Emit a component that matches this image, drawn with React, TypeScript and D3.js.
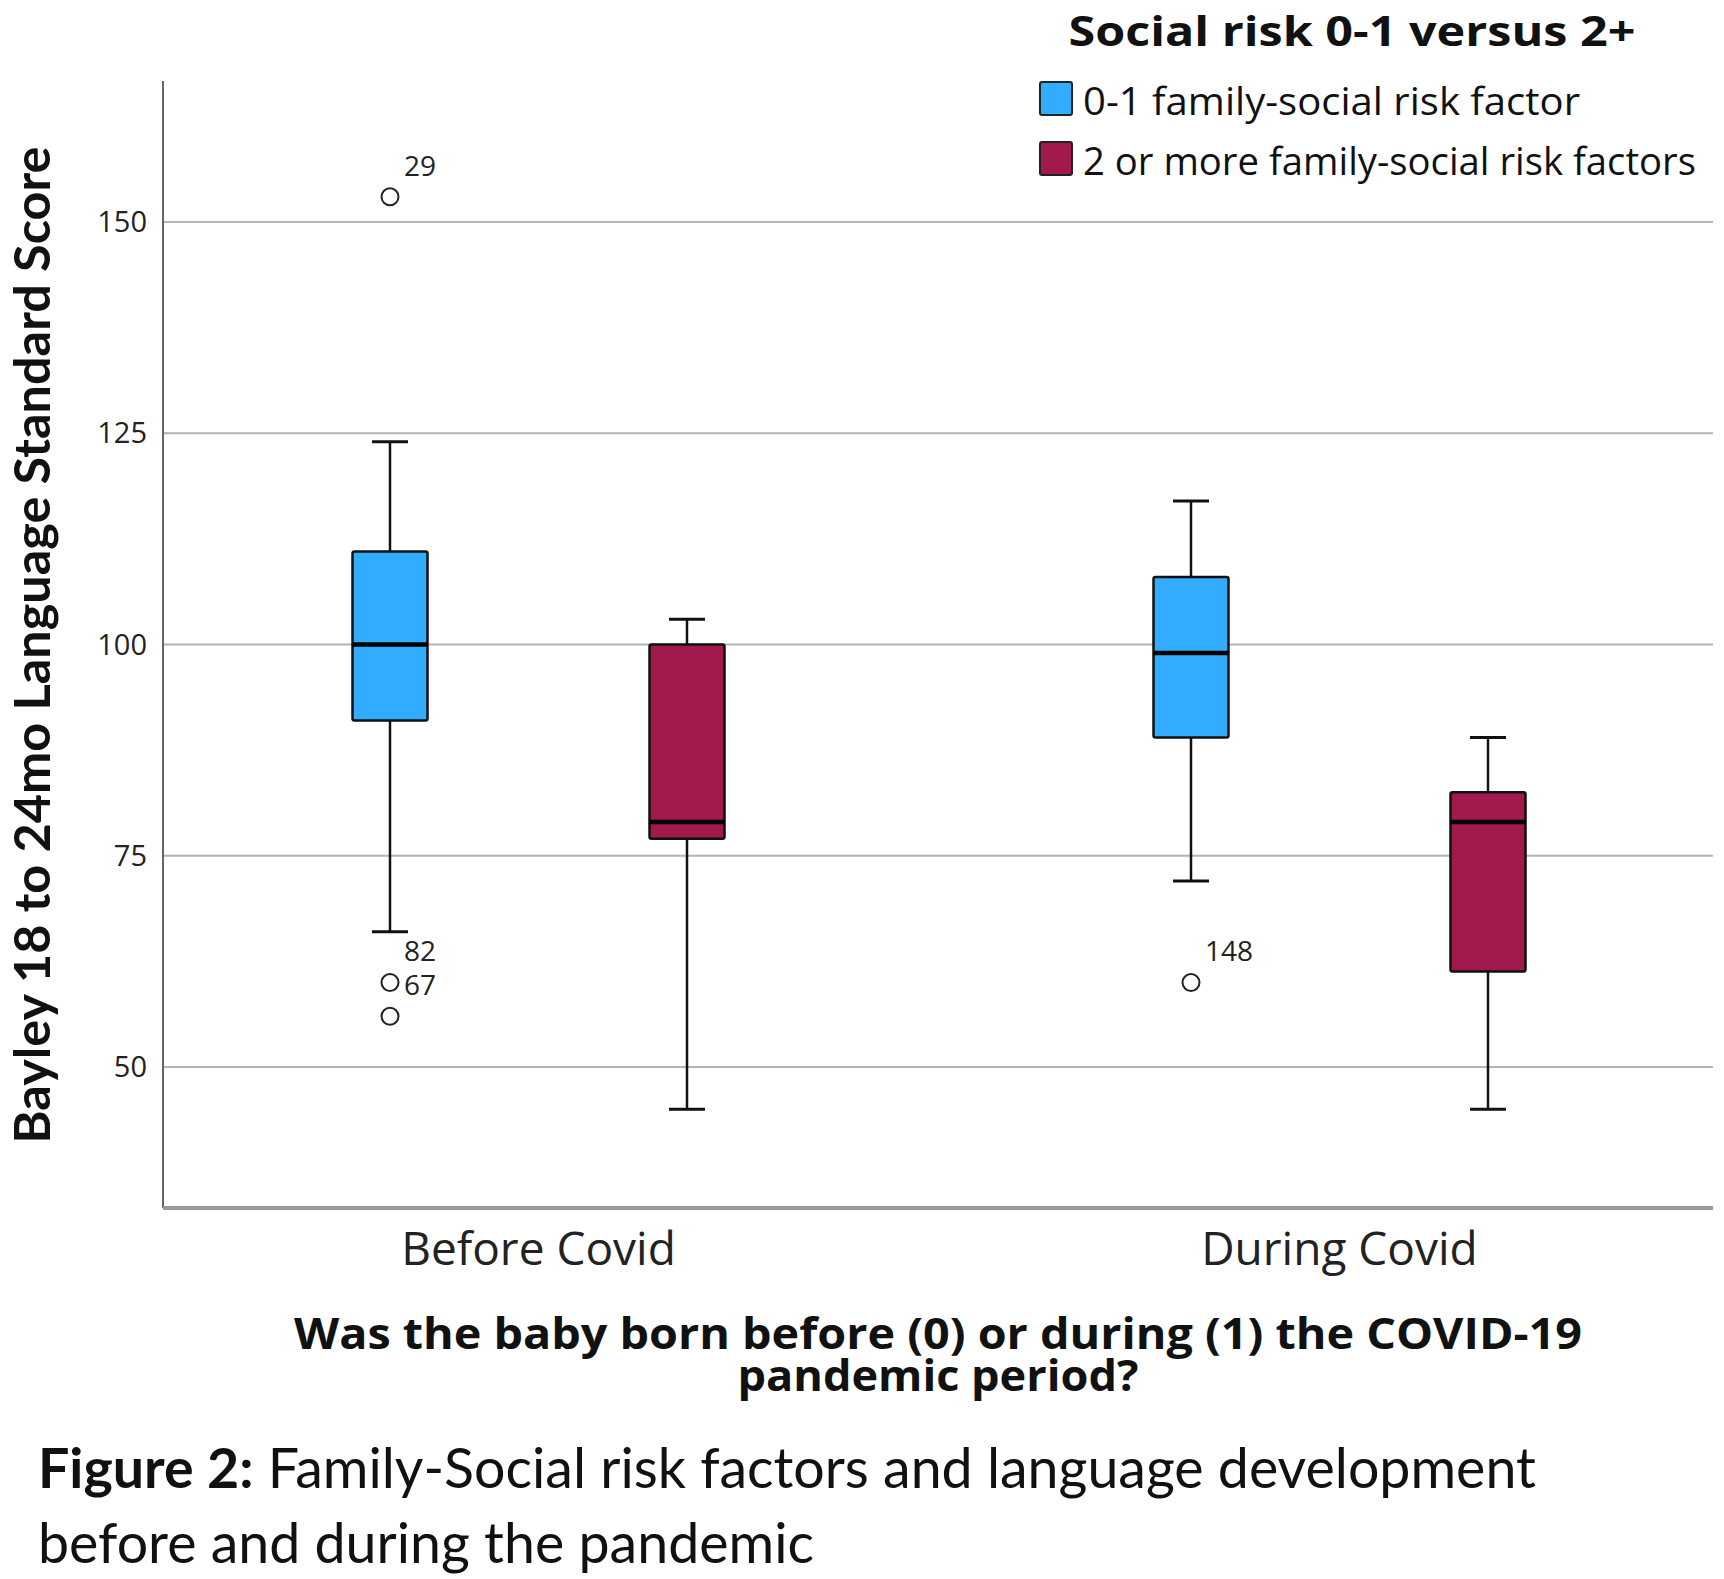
import React from "react";
import * as d3 from "d3";

// ---- data ----
const groups = ["Before Covid", "During Covid"];
const seriesNames = ["0-1 family-social risk factor", "2 or more family-social risk factors"];
const seriesColors = ["#31ACFF", "#A2194E"];

// box statistics per series, one value per group
const lowRiskWhiskerLow = [66, 72];
const lowRiskQ1 = [91, 89];
const lowRiskMedian = [100, 99];
const lowRiskQ3 = [111, 108];
const lowRiskWhiskerHigh = [124, 117];

const highRiskWhiskerLow = [45, 45];
const highRiskQ1 = [77, 61.3];
const highRiskMedian = [79, 79];
const highRiskQ3 = [100, 82.5];
const highRiskWhiskerHigh = [103, 89];

const outlierGroup = ["Before Covid", "Before Covid", "Before Covid", "During Covid"];
const outlierSeries = [0, 0, 0, 0];
const outlierValue = [153, 60, 56, 60];
const outlierLabel = ["29", "82", "67", "148"];

const yTicks = [50, 75, 100, 125, 150];

const legendTitle = "Social risk 0-1 versus 2+";
const yTitle = "Bayley 18 to 24mo Language Standard Score";
const xTitle1 = "Was the baby born before (0) or during (1) the COVID-19";
const xTitle2 = "pandemic period?";
const captionBold = "Figure 2:";
const captionRest = " Family-Social risk factors and language development";
const captionLine2 = "before and during the pandemic";

export default function App() {
  const W = 1724, H = 1579;
  const left = 163, right = 1713, top = 81, bottom = 1208;

  const y = d3.scaleLinear().domain([33.3, 166.7]).range([bottom, top]);
  const xg = d3.scalePoint<string>().domain(groups).range([538.5, 1339.5]);
  const xs = d3.scaleBand<number>().domain([0, 1]).range([-297, 297]);
  const boxW = 75;
  const capW = 36;

  const stats = [
    { lo: lowRiskWhiskerLow, q1: lowRiskQ1, med: lowRiskMedian, q3: lowRiskQ3, hi: lowRiskWhiskerHigh },
    { lo: highRiskWhiskerLow, q1: highRiskQ1, med: highRiskMedian, q3: highRiskQ3, hi: highRiskWhiskerHigh },
  ];

  const cx = (g: string, s: number) => (xg(g) as number) + (xs(s) as number) + xs.bandwidth() / 2;

  const axisFont = "'Open Sans', 'Noto Sans', sans-serif";
  const legendTextLen = [497, 613];

  return (
    <svg width={W} height={H} style={{ position: "absolute", left: 0, top: 0, background: "#fff" }}>
      <rect x={0} y={0} width={W} height={H} fill="#fff" />
      {/* gridlines */}
      {yTicks.map((t) => (
        <line key={"g" + t} x1={left} x2={right} y1={y(t)} y2={y(t)} stroke="#b4b4b4" strokeWidth={2} />
      ))}
      {/* y tick labels */}
      {yTicks.map((t) => (
        <text key={"t" + t} x={147} y={y(t) + 10} textAnchor="end" fontFamily={axisFont} fontSize={29} fill="#222">
          {t}
        </text>
      ))}
      {/* axes */}
      <line x1={left} x2={left} y1={top} y2={bottom} stroke="#666" strokeWidth={2} />
      <line x1={left} x2={right} y1={bottom} y2={bottom} stroke="#9a9a9a" strokeWidth={4} />

      {/* boxes */}
      {groups.map((g, gi) =>
        stats.map((st, si) => {
          const c = cx(g, si);
          return (
            <g key={g + si}>
              <line x1={c} x2={c} y1={y(st.hi[gi])} y2={y(st.q3[gi])} stroke="#111" strokeWidth={2.5} />
              <line x1={c} x2={c} y1={y(st.q1[gi])} y2={y(st.lo[gi])} stroke="#111" strokeWidth={2.5} />
              <line x1={c - capW / 2} x2={c + capW / 2} y1={y(st.hi[gi])} y2={y(st.hi[gi])} stroke="#111" strokeWidth={3} />
              <line x1={c - capW / 2} x2={c + capW / 2} y1={y(st.lo[gi])} y2={y(st.lo[gi])} stroke="#111" strokeWidth={3} />
              <rect
                x={c - boxW / 2}
                y={y(st.q3[gi])}
                width={boxW}
                height={y(st.q1[gi]) - y(st.q3[gi])}
                fill={seriesColors[si]}
                stroke="#111"
                strokeWidth={2.5}
                rx={2}
              />
              <line x1={c - boxW / 2} x2={c + boxW / 2} y1={y(st.med[gi])} y2={y(st.med[gi])} stroke="#000" strokeWidth={4.5} />
            </g>
          );
        })
      )}

      {/* outliers */}
      {outlierValue.map((v, i) => {
        const c = cx(outlierGroup[i], outlierSeries[i]);
        const py = y(v);
        return (
          <g key={"o" + i}>
            <circle cx={c} cy={py} r={8.5} fill="none" stroke="#222" strokeWidth={2} />
            <text x={c + 14} y={py - 21} fontFamily={axisFont} fontSize={28} fill="#222">
              {outlierLabel[i]}
            </text>
          </g>
        );
      })}

      {/* x tick labels */}
      {groups.map((g) => (
        <text key={"x" + g} x={xg(g)} y={1265} textAnchor="middle" fontFamily={axisFont} fontSize={46} fill="#222">
          {g}
        </text>
      ))}

      {/* x title */}
      <text x={938} y={1349} textAnchor="middle" fontFamily={axisFont} fontWeight="bold" fontSize={43}
        textLength={1288} lengthAdjust="spacingAndGlyphs" fill="#111">
        {xTitle1}
      </text>
      <text x={938} y={1391} textAnchor="middle" fontFamily={axisFont} fontWeight="bold" fontSize={43}
        textLength={401} lengthAdjust="spacingAndGlyphs" fill="#111">
        {xTitle2}
      </text>

      {/* y title */}
      <text
        transform={`translate(50, 645) rotate(-90)`}
        textAnchor="middle"
        fontFamily="Lato, 'Open Sans', sans-serif"
        fontWeight="bold"
        fontSize={50}
        textLength={997}
        lengthAdjust="spacingAndGlyphs"
        fill="#111"
      >
        {yTitle}
      </text>

      {/* legend */}
      <text x={1352} y={46} textAnchor="middle" fontFamily={axisFont} fontWeight="bold" fontSize={42}
        textLength={567} lengthAdjust="spacingAndGlyphs" fill="#111">
        {legendTitle}
      </text>
      {seriesNames.map((s, i) => (
        <g key={"l" + i}>
          <rect x={1040} y={82 + i * 60} width={32} height={33} fill={seriesColors[i]} stroke="#222" strokeWidth={2} rx={2} />
          <text x={1083} y={115 + i * 60} fontFamily={axisFont} fontSize={38} fill="#111"
            textLength={legendTextLen[i]} lengthAdjust="spacingAndGlyphs">
            {s}
          </text>
        </g>
      ))}

      {/* caption */}
      <text x={38} y={1488} fontFamily="Lato, 'Open Sans', sans-serif" fontSize={55.5} fill="#111">
        <tspan fontWeight="bold">{captionBold}</tspan>
        <tspan>{captionRest}</tspan>
      </text>
      <text x={38} y={1563} fontFamily="Lato, 'Open Sans', sans-serif" fontSize={55.5} fill="#111">
        {captionLine2}
      </text>
    </svg>
  );
}
